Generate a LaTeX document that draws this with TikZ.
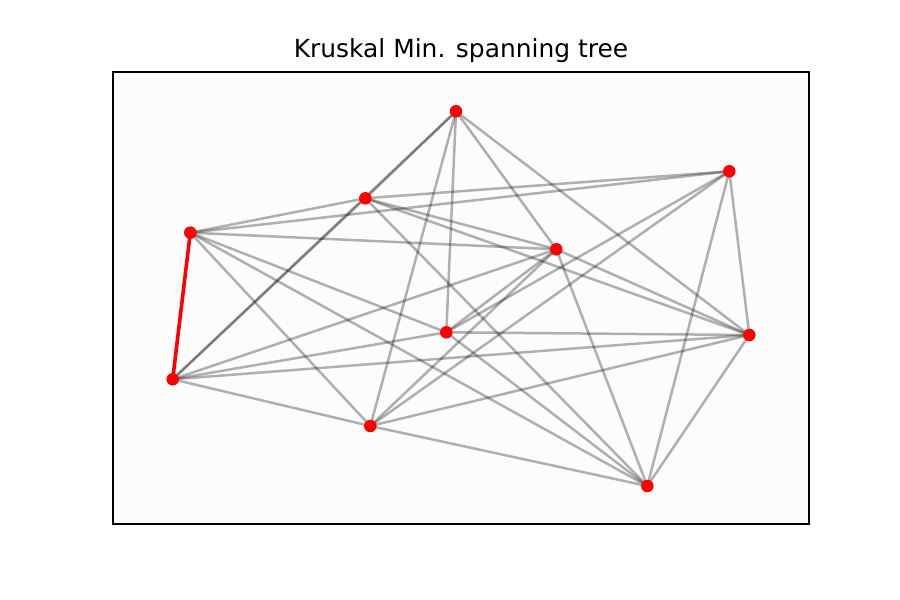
\documentclass[tikz,border=0pt]{standalone}
\usepackage{fontspec}
\setmainfont{DejaVu Sans}
\usetikzlibrary{backgrounds}
\tikzset{
  vert/.style={circle, fill={rgb,255:red,255;green,0;blue,0}, draw=none, minimum size=0.125in, inner sep=0pt},
  edge/.style={draw=black, draw opacity=0.3, line width=1.8pt},
  mst/.style={draw={rgb,255:red,255;green,0;blue,0}, line width=2.6pt},
  frame/.style={draw=black, line width=0.9pt, fill=white!99!black}
}
\begin{document}
\begin{tikzpicture}[x=0.01in, y=-0.01in]
\useasboundingbox (0,0) rectangle (900,600);
\node[anchor=base, font=\fontsize{18pt}{21pt}\selectfont] (title) at (461,58) {Kruskal Min. spanning tree};
\node[vert] (A) at (456,111.3) {};
\node[vert] (B) at (729.3,171.3) {};
\node[vert] (C) at (365.3,198.3) {};
\node[vert] (D) at (190.3,232.7) {};
\node[vert] (E) at (556.3,249.3) {};
\node[vert] (F) at (446.3,332.3) {};
\node[vert] (G) at (749.3,335) {};
\node[vert] (H) at (172.7,379.3) {};
\node[vert] (I) at (370.3,426) {};
\node[vert] (J) at (647.3,486) {};
\begin{pgfonlayer}{background}
\draw[frame] (113,72) rectangle (809,524);
\foreach \u/\v in {A/C,A/H,A/I,A/F,A/E,A/G,
  B/C,B/D,B/F,B/I,B/J,B/G,
  C/H,C/D,C/E,C/G,C/J,
  D/E,D/F,D/J,D/I,
  E/H,E/F,E/I,E/G,E/J,
  F/G,F/H,F/J,
  G/H,G/I,G/J,
  H/I,I/J}
  \draw[edge] (\u.center) -- (\v.center);
\draw[mst] (D.center) -- (H.center);
\end{pgfonlayer}
\end{tikzpicture}
\end{document}
